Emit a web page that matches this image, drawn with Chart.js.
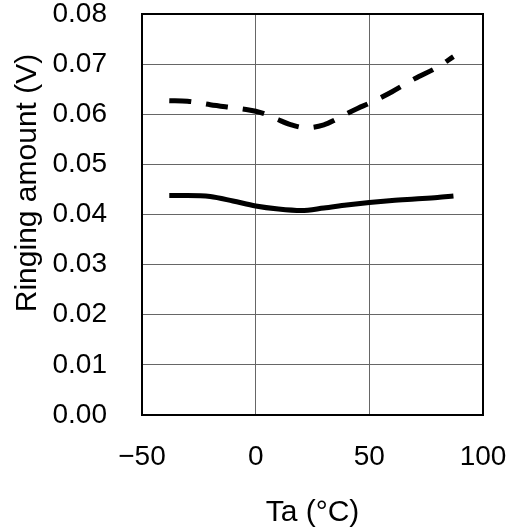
<!DOCTYPE html>
<html>
<head>
<meta charset="utf-8">
<script src="https://cdn.jsdelivr.net/npm/chart.js@4/dist/chart.umd.min.js"></script>
<style>
  html, body { margin: 0; padding: 0; background: #ffffff; }
  #wrap { width: 514px; height: 531px; }
</style>
</head>
<body>
<div id="wrap"><canvas id="c" width="514" height="531"></canvas></div>
<script>
// ---- data ----
const solidTemps  = [-38, -30, -20, -10, 0, 10, 20, 30, 40, 50, 60, 70, 80, 87];
const solidValues = [0.0438, 0.0438, 0.0436, 0.0427, 0.0417, 0.0411, 0.0408, 0.0413, 0.0419, 0.0424, 0.0428, 0.0431, 0.0434, 0.0437];

const dashedTemps  = [-38, -30, -20, -10, -5, 0, 5, 10, 15, 22, 30, 35, 40, 45, 50, 60, 70, 80, 87];
const dashedValues = [0.0627, 0.0626, 0.0619, 0.0613, 0.0610, 0.0606, 0.0599, 0.0589, 0.0580, 0.0573, 0.0579, 0.0589, 0.0601, 0.0612, 0.0622, 0.0645, 0.0671, 0.0694, 0.0715];

const xTicks = [-50, 0, 50, 100];
const yTicks = [0.00, 0.01, 0.02, 0.03, 0.04, 0.05, 0.06, 0.07, 0.08];
const xTitle = 'Ta (°C)';
const yTitle = 'Ringing amount (V)';

const FONT = "'Liberation Sans', Arial, sans-serif";
Chart.defaults.font.family = FONT;
Chart.defaults.color = '#000000';

const toPts = (xs, ys) => xs.map((x, i) => ({ x: x, y: ys[i] }));

const noPad = (scale) => {
  scale.paddingTop = 0;
  scale.paddingBottom = 0;
  scale.paddingLeft = 0;
  scale.paddingRight = 0;
};

const frame = {
  id: 'frame',
  afterDraw(chart) {
    const { ctx, chartArea: a } = chart;
    ctx.save();
    ctx.strokeStyle = '#000000';
    ctx.lineWidth = 2;
    ctx.strokeRect(a.left, a.top, a.right - a.left, a.bottom - a.top);
    // y axis title
    ctx.fillStyle = '#000000';
    ctx.font = "30px " + FONT;
    ctx.textAlign = 'center';
    ctx.textBaseline = 'middle';
    ctx.translate(28, 183);
    ctx.rotate(-Math.PI / 2);
    ctx.fillText(yTitle, 0, 0);
    ctx.restore();
  }
};

new Chart(document.getElementById('c'), {
  type: 'line',
  data: {
    datasets: [
      {
        data: toPts(dashedTemps, dashedValues),
        borderColor: '#000000',
        borderWidth: 5,
        borderDash: [22, 15],
        pointRadius: 0,
        fill: false,
        cubicInterpolationMode: 'monotone'
      },
      {
        data: toPts(solidTemps, solidValues),
        borderColor: '#000000',
        borderWidth: 5,
        pointRadius: 0,
        fill: false,
        cubicInterpolationMode: 'monotone'
      }
    ]
  },
  options: {
    responsive: false,
    devicePixelRatio: 1,
    animation: false,
    events: [],
    layout: { padding: { top: 14, right: 31, left: 0, bottom: 0 } },
    plugins: { legend: { display: false }, tooltip: { enabled: false } },
    scales: {
      x: {
        type: 'linear',
        min: -50,
        max: 100,
        afterFit(scale) { scale.height = 116; noPad(scale); },
        afterBuildTicks(scale) { scale.ticks = xTicks.map(v => ({ value: v })); },
        ticks: {
          padding: 25,
          font: { size: 28 },
          color: '#000000',
          maxRotation: 0,
          callback: (v) => String(v).replace('-', '\u2212')
        },
        grid: { color: '#666666', lineWidth: 1, drawTicks: false },
        border: { display: false },
        title: {
          display: true,
          text: xTitle,
          font: { size: 30 },
          color: '#000000',
          padding: { top: 0, bottom: 0 }
        }
      },
      y: {
        type: 'linear',
        min: 0,
        max: 0.08,
        afterFit(scale) { scale.width = 142; noPad(scale); },
        afterBuildTicks(scale) { scale.ticks = yTicks.map(v => ({ value: v })); },
        ticks: {
          padding: 35,
          font: { size: 28 },
          color: '#000000',
          callback: (v) => Number(v).toFixed(2)
        },
        grid: { color: '#666666', lineWidth: 1, drawTicks: false },
        border: { display: false }
      }
    }
  },
  plugins: [frame]
});
</script>
</body>
</html>
